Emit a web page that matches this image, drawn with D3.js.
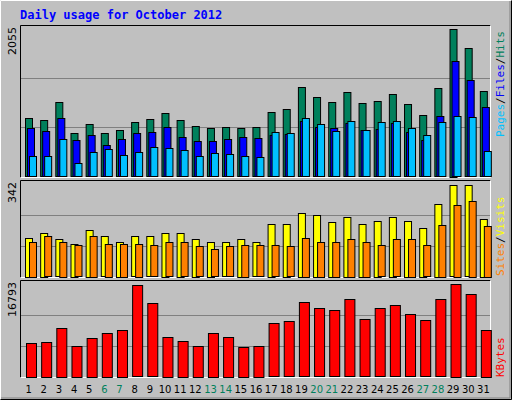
<!DOCTYPE html><html><head><meta charset="utf-8">
<script src="https://cdn.jsdelivr.net/npm/d3@7"></script>
<style>body{margin:0;background:#fff}</style></head><body><svg id="c" width="512" height="400"></svg>
<script>
const days=d3.range(1,32);
const weekends=[6,7,13,14,20,21,27,28];
const hits=[814,786,1037,604,730,604,646,758,800,883,786,702,674,688,674,688,897,939,1246,1107,1037,1176,1023,1051,1148,1009,855,1232,2055,1790,1190];
const files=[674,632,814,507,577,437,521,604,618,688,549,493,493,521,549,535,577,590,772,688,674,744,646,660,744,618,507,842,1608,1344,967];
const pages=[284,284,521,186,339,381,298,339,409,395,367,284,325,312,284,270,618,604,814,730,632,772,646,758,772,674,577,758,842,828,353];
const sites=[144,162,137,122,173,148,129,148,148,162,162,140,129,126,140,126,195,195,236,228,203,221,195,206,221,206,181,269,338,338,214];
const visits=[129,148,129,115,151,122,122,122,115,126,126,111,100,111,118,115,115,111,144,129,129,140,129,115,137,140,115,192,265,280,188];
const kbytes=[6129,6313,8887,5577,7048,7967,8519,16609,13300,7232,6497,5577,7967,7232,5393,5577,9622,9990,13483,12380,12013,14035,10358,12380,12932,11277,10174,14035,16793,14955,8519];
const maxes=[2055,342,16793];

const svg=d3.select("#c");
svg.append("rect").attr("x",0).attr("y",0).attr("width",512).attr("height",400).attr("fill","#C0C0C0");
svg.append("path").attr("d","M0.5,399.5V0.5H511.5").attr("stroke","#fff").attr("fill","none");
svg.append("path").attr("d","M511.5,0.5V399.5H0.5").attr("stroke","#000").attr("fill","none").attr("stroke-width",1);
svg.append("path").attr("d","M510,1V398H1").attr("stroke","#808080").attr("fill","none");
const font="DejaVu Sans Mono, monospace";
svg.append("text").attr("x",20).attr("y",19).attr("font-family",font).attr("font-size",12).attr("font-weight","bold").attr("fill","#0000FF").text("Daily usage for October 2012");

const x=d3.scaleBand().domain(days).range([20,490]);
const panels=[{y0:25,y1:178},{y0:180,y1:278},{y0:280,y1:378}];
panels.forEach(p=>{
  svg.append("rect").attr("x",20).attr("y",p.y0).attr("width",470).attr("height",p.y1-p.y0).attr("fill","#C0C0C0");
  svg.append("path").attr("d",`M20.5,${p.y1-0.5}V${p.y0+0.5}H490.5`).attr("stroke","#000").attr("fill","none");
  svg.append("path").attr("d",`M490.5,${p.y0+0.5}V${p.y1-0.5}H20.5`).attr("stroke","#fff").attr("fill","none");
});
function panel(pi,series,offs,widths,colors){
  const p=panels[pi];
  const base=p.y1-1.5, top=base-(pi==0?147.5:pi==1?93*3:91.3*3);
  const y=d3.scaleLinear().domain([0,maxes[pi]]).range([base,pi==0?29:pi==1?184:284]);
  [1/3,2/3].forEach(f=>{const gy=Math.round(y(maxes[pi]*f))+0.5;
    svg.append("line").attr("x1",21).attr("x2",490).attr("y1",gy).attr("y2",gy).attr("stroke","#808080");});
  series.forEach((s,si)=>{
    svg.append("g").selectAll("rect").data(s).join("rect")
      .attr("x",(d,i)=>x(days[i])+offs[si]+0.5).attr("y",d=>Math.round(y(d))+0.5)
      .attr("width",widths[si]).attr("height",d=>Math.max(0,Math.round(base-y(d))))
      .attr("fill",colors[si]).attr("stroke","#000");
  });
  svg.append("text").attr("transform",`translate(16,${p.y0+2}) rotate(-90)`).attr("text-anchor","end")
    .attr("font-family","DejaVu Sans, sans-serif").attr("font-size",11).attr("fill","#000").text(maxes[pi]);
}
panel(0,[hits,files,pages],[5,7,9],[7,7,7],["#00805C","#0000FF","#00C0FF"]);
panel(1,[sites,visits],[5,9],[7,7],["#FFFF00","#FF8000"]);
panel(2,[kbytes],[6],[10],["#FF0000"]);

function rlabel(yb,parts){
  const t=svg.append("text").attr("transform",`translate(504,${yb}) rotate(-90)`)
    .attr("font-family",font).attr("font-size",11).attr("text-anchor","start");
  parts.forEach(([s,c])=>t.append("tspan").attr("fill",c).text(s));
}
rlabel(137,[["Pages","#00C0FF"],["/","#000"],["Files","#0000FF"],["/","#000"],["Hits","#00805C"]]);
rlabel(276,[["Sites","#FF8000"],["/","#000"],["Visits","#FFFF00"]]);
rlabel(377,[["KBytes","#FF0000"]]);

svg.append("g").selectAll("text").data(days).join("text")
  .attr("x",d=>x(d)+x.bandwidth()/2+1).attr("y",393).attr("text-anchor","middle")
  .attr("font-family","DejaVu Sans, sans-serif").attr("font-size",10)
  .attr("fill",d=>weekends.includes(d)?"#00805C":"#000").text(d=>d);
</script></body></html>
